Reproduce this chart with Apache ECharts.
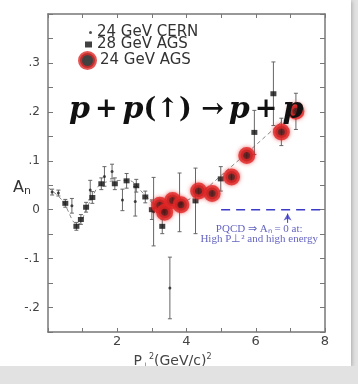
<!DOCTYPE html>
<html>
<head>
<meta charset="utf-8">
<script src="https://cdn.jsdelivr.net/npm/echarts@6/dist/echarts.min.js"></script>
<style>
  html, body { margin: 0; padding: 0; background: #e2e2e2; }
  #main { width: 351px; height: 366px; background: #fff; box-shadow: 1px 1px 4px rgba(0,0,0,0.25); }
</style>
</head>
<body>
<div id="main"></div>
<script>
// [x, A_n, error]
var cernData = [
  [0.12, 0.036, 0.006], [0.3, 0.034, 0.006], [0.69, 0.008, 0.015], [1.22, 0.04, 0.02],
  [1.63, 0.068, 0.02], [1.85, 0.078, 0.015], [2.15, 0.02, 0.022], [2.52, 0.017, 0.03],
  [3.05, -0.004, 0.07], [3.52, -0.16, 0.063]
];
var ags28Data = [
  [0.5, 0.013, 0.008], [0.82, -0.034, 0.008], [0.95, -0.02, 0.01], [1.1, 0.005, 0.01],
  [1.28, 0.025, 0.012], [1.54, 0.053, 0.012], [1.93, 0.053, 0.012], [2.27, 0.059, 0.015],
  [2.55, 0.049, 0.013], [2.81, 0.026, 0.012], [3.0, 0.0, 0.02], [3.3, -0.034, 0.015],
  [3.8, 0.015, 0.06], [4.26, 0.018, 0.067], [4.99, 0.063, 0.025], [5.96, 0.158, 0.045],
  [6.51, 0.237, 0.065]
];
var ags24Data = [
  [3.23, 0.009, 0.008], [3.37, -0.005, 0.008], [3.6, 0.019, 0.008], [3.84, 0.01, 0.008],
  [4.35, 0.038, 0.01], [4.74, 0.033, 0.01], [5.3, 0.067, 0.01], [5.74, 0.111, 0.01],
  [6.74, 0.159, 0.028], [7.16, 0.201, 0.037]
];
var fitLine = [
  [0.0, 0.045], [0.4, 0.02], [0.85, -0.03], [1.2, 0.015], [1.6, 0.055], [2.3, 0.06],
  [2.8, 0.03], [3.3, 0.0], [3.9, 0.015], [4.5, 0.04], [5.0, 0.07], [6.0, 0.132], [7.3, 0.215]
];
var pqcdLine = [[5.0, 0], [8.0, 0]];
var pqcdArrow = [[6.92, -0.027], [6.92, -0.008]];
var pqcdText = [[6.1, -0.039], [6.1, -0.061]];

var axisColor = '#777';
var blue = '#3b3bc8';

function errorBar(params, api) {
  var x = api.value(0), y = api.value(1), e = api.value(2);
  var top = api.coord([x, y + e]);
  var bot = api.coord([x, y - e]);
  var w = 2;
  var st = { stroke: '#666', lineWidth: 1 };
  return {
    type: 'group',
    children: [
      { type: 'line', shape: { x1: top[0], y1: top[1], x2: bot[0], y2: bot[1] }, style: st },
      { type: 'line', shape: { x1: top[0] - w, y1: top[1], x2: top[0] + w, y2: top[1] }, style: st },
      { type: 'line', shape: { x1: bot[0] - w, y1: bot[1], x2: bot[0] + w, y2: bot[1] }, style: st }
    ]
  };
}

function yLabel(v) {
  var n = Math.round(v * 100);
  if (n % 10 !== 0 || n === 40) return '';
  if (n === 0) return '0';
  return (n < 0 ? '-' : '') + '.' + Math.abs(n / 10);
}

var chart = echarts.init(document.getElementById('main'));

var legendText = { fontFamily: 'DejaVu Sans', fontSize: 15, color: '#333' };
var axisLine = { onZero: false, lineStyle: { color: axisColor, width: 1.5 } };

var option = {
  animation: false,
  grid: { left: 48, right: 26, top: 14, bottom: 34, containLabel: false, outerBoundsMode: 'none' },
  legend: [
    { data: ['24 GeV CERN'], left: 89, top: 25, padding: 0, itemWidth: 3, itemHeight: 3, textStyle: legendText },
    { data: ['28 GeV AGS'], left: 85, top: 37, padding: 0, itemWidth: 7, itemHeight: 6, textStyle: legendText },
    { data: [{ name: '24 GeV AGS', itemStyle: { color: '#111', borderColor: '#e02828', borderWidth: 4 } }],
      left: 78, top: 51, padding: 0, itemWidth: 15, itemHeight: 15, textStyle: legendText }
  ],
  title: {
    text: '{i|p} {n|+} {i|p}{n|(↑) →} {i|p} {n|+} {i|p}',
    left: 64, top: 90,
    textStyle: {
      rich: {
        i: { fontFamily: 'DejaVu Serif', fontStyle: 'italic', fontWeight: 'bold', fontSize: 30, color: '#111' },
        n: { fontFamily: 'DejaVu Serif', fontWeight: 'bold', fontSize: 27, color: '#111' }
      }
    }
  },
  graphic: [
    { type: 'text', left: 13, top: 180,
      style: { text: '{a|A}{s|n}', rich: { a: { fontFamily: 'DejaVu Sans', fontSize: 16, fill: '#333' },
        s: { fontFamily: 'DejaVu Sans', fontSize: 11, fill: '#333', padding: [6, 0, 0, 0] } } } }
  ],
  xAxis: [
    { type: 'value', min: 0, max: 8, interval: 1, position: 'bottom',
      name: '{a|P}{s|⊥}{t|2}{a|(GeV/c)}{t|2}', nameLocation: 'middle', nameGap: 17,
      nameTextStyle: { padding: [0, 28, 0, 0], rich: {
        a: { fontFamily: 'DejaVu Sans', fontSize: 14, color: '#444' },
        s: { fontFamily: 'DejaVu Sans', fontSize: 8, color: '#444', padding: [10, 0, 0, 0] },
        t: { fontFamily: 'DejaVu Sans', fontSize: 8, color: '#444', padding: [0, 0, 9, 0] }
      } },
      axisLine: axisLine,
      axisTick: { inside: true, length: 4, lineStyle: { color: axisColor } },
      axisLabel: { margin: 3, fontFamily: 'DejaVu Sans', fontSize: 13, color: '#444',
        formatter: function (v) { return (v % 2 === 0 && v > 0) ? String(v) : ''; } },
      splitLine: { show: false } },
    { type: 'value', min: 0, max: 8, interval: 1, position: 'top',
      axisLine: axisLine,
      axisTick: { inside: true, length: 4, lineStyle: { color: axisColor } },
      axisLabel: { show: false }, splitLine: { show: false } }
  ],
  yAxis: [
    { type: 'value', min: -0.25, max: 0.4, interval: 0.05, position: 'left',
      axisLine: axisLine,
      axisTick: { inside: true, length: 5, lineStyle: { color: axisColor } },
      axisLabel: { margin: 8, fontFamily: 'DejaVu Sans', fontSize: 12, color: '#444', formatter: yLabel },
      splitLine: { show: false } },
    { type: 'value', min: -0.25, max: 0.4, interval: 0.05, position: 'right',
      axisLine: axisLine,
      axisTick: { inside: true, length: 5, lineStyle: { color: axisColor } },
      axisLabel: { show: false }, splitLine: { show: false } }
  ],
  series: [
    { type: 'line', data: fitLine, smooth: 0.4, symbol: 'none',
      lineStyle: { color: '#888', width: 1, type: [4, 3] }, z: 1 },
    { type: 'line', data: pqcdLine, symbol: 'none',
      lineStyle: { color: blue, width: 1.5, type: [9, 6] }, z: 1 },
    { type: 'line', data: pqcdArrow, symbol: 'none',
      lineStyle: { color: blue, width: 1 }, z: 1 },
    { type: 'scatter', data: [pqcdArrow[1]], symbol: 'arrow', symbolSize: [6, 7],
      itemStyle: { color: blue }, z: 1 },
    { type: 'scatter', data: pqcdText, symbolSize: 0, silent: true,
      label: { show: true, position: 'inside', fontFamily: 'Liberation Serif', fontSize: 11, color: '#3b3bb0',
        formatter: function (p) { return p.dataIndex === 0 ? 'PQCD ⇒ Aₙ = 0 at:' : 'High P⊥² and high energy'; } } },
    { type: 'custom', renderItem: errorBar, data: cernData, z: 2 },
    { type: 'custom', renderItem: errorBar, data: ags28Data, z: 2 },
    { type: 'custom', renderItem: errorBar, data: ags24Data, z: 2 },
    { name: '24 GeV CERN', type: 'scatter', data: cernData, symbol: 'circle', symbolSize: 3,
      itemStyle: { color: '#222' }, z: 3 },
    { name: '28 GeV AGS', type: 'scatter', data: ags28Data, symbol: 'rect', symbolSize: [6, 5],
      itemStyle: { color: '#111' }, z: 4 },
    { name: '24 GeV AGS', type: 'scatter', data: ags24Data, symbol: 'circle', symbolSize: 12,
      itemStyle: { color: '#111', borderColor: '#e02828', borderWidth: 5,
        shadowBlur: 4, shadowColor: 'rgba(230,30,30,0.7)' }, z: 5 }
  ]
};

chart.setOption(option);
</script>
</body>
</html>
